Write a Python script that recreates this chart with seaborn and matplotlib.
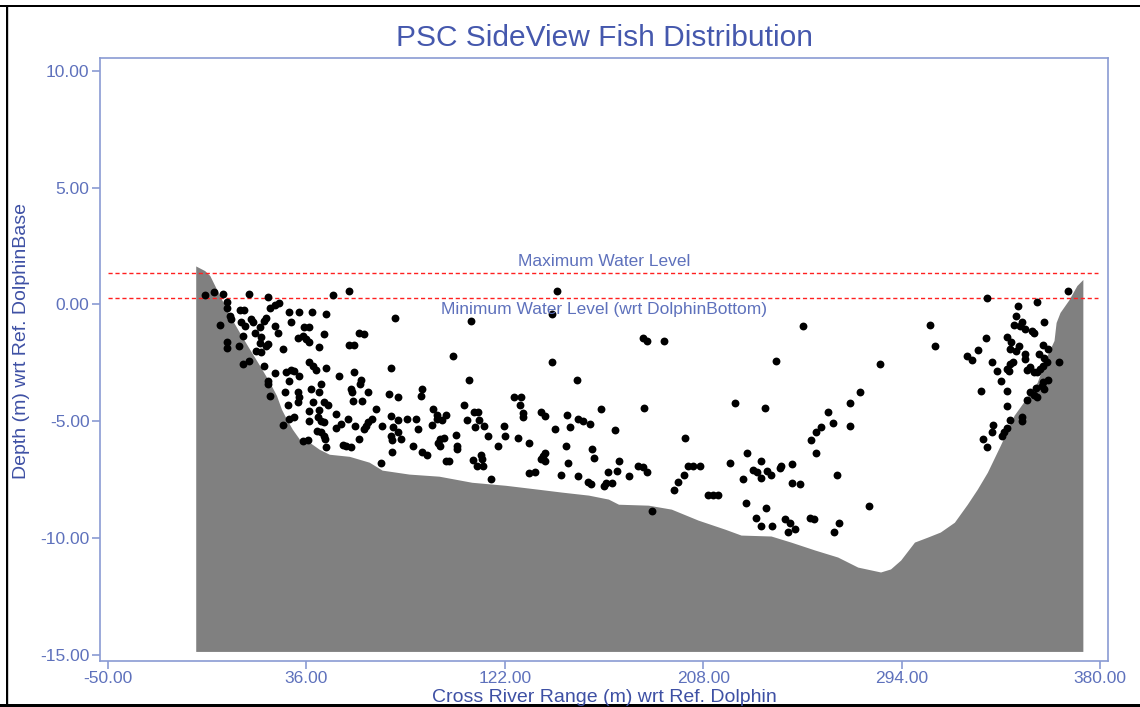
import matplotlib
matplotlib.use("Agg")
import matplotlib.pyplot as plt
import matplotlib.transforms as mtransforms
from matplotlib.patches import Rectangle
from matplotlib.ticker import FormatStrFormatter
import seaborn as sns
import pandas as pd

# river bed profile (cross river range m, depth m)
bed_x = [-12.0, -8.1, -5.9, -1.6, 2.7, 7.0, 11.4, 15.7, 20.0, 23.0, 25.2, 27.4, 29.9, 33.0,
         37.3, 41.6, 45.9, 54.6, 63.2, 68.8, 80.5, 93.5, 107.7, 122.4, 136.7, 146.6, 158.3,
         166.9, 171.3, 184.2, 194.2, 205.8, 217.5, 224.4, 237.4, 246.0, 256.4, 266.3, 275.0,
         284.9, 289.2, 293.6, 299.6, 305.2, 310.8, 316.9, 322.5, 326.8, 331.2, 336.8, 342.8,
         348.4, 352.8, 357.1, 360.1, 361.0, 362.7, 366.6, 370.0, 372.6]
bed_y = [1.65, 1.45, 1.24, 0.38, -0.47, -1.20, -1.92, -2.61, -3.33, -3.89, -4.49, -4.91, -5.34,
         -5.77, -5.90, -6.20, -6.41, -6.50, -6.75, -7.09, -7.26, -7.35, -7.61, -7.74, -7.91,
         -8.03, -8.16, -8.33, -8.55, -8.59, -8.76, -9.23, -9.62, -9.87, -9.91, -10.17, -10.51,
         -10.81, -11.24, -11.45, -11.32, -10.94, -10.17, -9.96, -9.74, -9.32, -8.55, -7.91,
         -7.18, -6.03, -4.74, -3.97, -3.33, -2.18, -1.54, -0.77, -0.34, 0.21, 0.81, 1.07]
bed_floor = -14.85

max_level = 1.34
min_level = 0.26

# fish targets (x, depth)
fish_west = [
    (-8.1, 0.40), (-4.2, 0.54), (-0.2, 0.44), (11.1, 0.44), (19.3, 0.34), (54.3, 0.58), (47.4, 0.40),
    (1.6, 0.09), (1.6, -0.13), (2.7, -0.49), (3.4, -0.63), (7.0, -0.23), (8.8, -0.23), (20.0, -0.13),
    (22.2, -0.03), (24.3, 0.06), (18.6, -0.56), (17.8, -0.70), (-1.6, -0.88), (7.8, -0.74), (9.2, -0.91),
    (12.1, -0.63), (12.8, -0.77), (16.0, -0.96), (28.3, -0.34), (32.7, -0.34), (38.4, -0.34), (44.5, -0.41),
    (29.4, -0.74), (22.2, -0.91), (35.1, -0.98), (37.0, -0.98), (43.8, -1.27), (23.6, -1.20), (13.5, -1.20),
    (8.5, -1.34), (16.4, -1.41), (15.7, -1.63), (18.6, -1.77), (19.3, -1.70), (32.2, -1.45), (34.4, -1.34),
    (35.8, -1.48), (37.0, -1.60), (41.6, -1.80), (26.0, -1.91), (1.6, -1.60), (1.6, -1.88), (6.7, -1.77),
    (54.3, -1.74), (56.7, -1.74), (58.9, -1.20), (61.0, -1.27), (14.2, -1.98), (16.4, -2.05), (8.5, -2.55),
    (11.1, -2.41), (17.4, -2.62), (37.0, -2.45), (38.7, -2.62), (40.2, -2.79), (44.5, -2.74), (22.2, -2.94),
    (27.2, -2.91), (29.4, -2.79), (30.8, -2.84), (28.3, -3.26), (32.7, -3.05), (50.2, -3.08), (56.7, -2.91),
    (19.3, -3.26), (19.3, -3.41), (59.6, -3.22), (59.2, -3.41), (42.3, -3.41), (41.3, -3.73), (38.0, -3.62),
    (55.3, -3.62), (55.7, -3.76), (62.5, -3.76), (26.9, -3.76), (32.2, -3.76), (32.7, -3.98), (32.2, -4.19),
    (20.3, -3.91), (27.9, -4.30), (39.0, -4.19), (43.8, -4.16), (45.2, -4.30), (56.0, -4.12), (60.3, -4.12),
    (66.1, -4.48), (37.3, -4.55), (41.3, -4.50), (48.8, -4.69), (53.8, -4.90), (64.4, -4.90), (62.9, -5.02),
    (61.8, -5.19), (61.0, -5.33), (28.6, -4.90), (30.4, -4.83), (37.0, -4.97), (40.9, -4.83), (42.3, -4.97),
    (43.8, -5.05), (26.0, -5.16), (48.8, -5.30), (51.0, -5.12), (57.2, -5.22), (40.5, -5.40), (42.3, -5.47),
    (43.8, -5.62), (44.2, -5.76), (44.5, -6.11), (34.4, -5.83), (36.6, -5.79), (51.7, -6.01), (53.1, -6.07),
    (55.3, -6.11), (58.9, -5.76),
]
fish_midwest = [
    (144.6, 0.58), (142.4, -0.41), (74.5, -0.60), (107.2, -0.70), (99.5, -2.20), (72.6, -2.74),
    (142.4, -2.45), (106.4, -3.24), (71.9, -3.83), (75.9, -3.98), (86.3, -3.62), (85.6, -3.93),
    (125.9, -3.98), (129.2, -3.98), (128.8, -4.30), (90.9, -4.48), (92.8, -4.73), (96.4, -4.73),
    (94.6, -4.93), (92.8, -4.90), (104.3, -4.30), (108.6, -4.59), (110.5, -4.59), (111.0, -4.93),
    (105.7, -4.93), (109.0, -5.26), (112.9, -5.22), (129.8, -4.65), (129.8, -4.83), (137.8, -4.59),
    (139.6, -4.79), (148.9, -4.73), (72.6, -4.76), (75.5, -4.93), (79.8, -4.90), (83.7, -4.90),
    (68.7, -5.22), (73.6, -5.26), (75.9, -5.47), (84.5, -5.33), (90.3, -5.16), (72.6, -5.64),
    (73.0, -5.79), (76.9, -5.76), (82.2, -6.07), (93.8, -5.76), (95.6, -5.73), (93.2, -5.93),
    (93.8, -6.04), (101.0, -5.59), (101.4, -6.04), (101.4, -6.19), (114.8, -5.62), (121.6, -5.22),
    (122.0, -5.62), (127.7, -5.73), (132.6, -5.93), (143.6, -5.33), (119.1, -6.07), (148.5, -6.07),
    (73.0, -6.30), (86.0, -6.30), (88.4, -6.44), (96.4, -6.68), (97.8, -6.68), (108.2, -6.64),
    (111.5, -6.44), (111.9, -6.61), (110.0, -6.93), (112.5, -6.93), (138.4, -6.47), (139.6, -6.36),
    (137.8, -6.61), (139.6, -6.68), (149.3, -6.78), (68.3, -6.78), (132.6, -7.21), (135.2, -7.15),
    (146.5, -7.30), (115.8, -7.47),
]
fish_centre = [
    (182.1, -1.45), (183.5, -1.55), (191.1, -1.55), (153.3, -3.22), (221.7, -4.22), (163.8, -4.47),
    (182.5, -4.45), (153.7, -4.90), (155.7, -4.97), (159.0, -5.12), (150.4, -5.26), (169.8, -5.36),
    (200.1, -5.73), (159.7, -6.18), (160.5, -6.58), (227.1, -6.35), (171.3, -6.68), (219.5, -6.78),
    (179.9, -6.93), (182.1, -6.97), (183.5, -7.15), (166.9, -7.15), (170.5, -7.11), (175.9, -7.35),
    (153.7, -7.35), (158.0, -7.58), (159.4, -7.68), (164.8, -7.78), (165.8, -7.64), (168.4, -7.64),
    (201.5, -6.93), (203.7, -6.93), (206.5, -6.93), (199.8, -7.30), (196.9, -7.58), (195.4, -7.96),
    (210.1, -8.15), (212.3, -8.15), (214.5, -8.15), (225.3, -7.47), (229.6, -7.07), (231.4, -7.15),
    (226.7, -8.49), (231.0, -9.15), (185.9, -8.82),
]
fish_east = [
    (251.2, -0.91), (306.2, -0.87), (308.5, -1.77), (239.7, -2.41), (284.6, -2.55), (276.0, -3.73),
    (271.8, -4.22), (234.6, -4.45), (262.0, -4.62), (264.2, -5.07), (271.8, -5.22), (259.1, -5.23),
    (257.0, -5.44), (254.8, -5.80), (256.7, -6.35), (232.9, -6.68), (241.8, -6.93), (241.5, -7.01),
    (246.6, -6.83), (235.8, -7.11), (237.5, -7.30), (233.2, -7.44), (265.9, -7.30), (246.6, -7.64),
    (249.8, -7.68), (235.4, -8.71), (280.0, -8.64), (243.3, -9.20), (245.7, -9.35), (254.1, -9.15),
    (256.0, -9.20), (266.8, -9.35), (233.2, -9.49), (238.0, -9.49), (244.7, -9.72), (248.0, -9.60),
    (264.9, -9.72),
]
fish_bank = [
    (366.2, 0.58), (330.9, 0.26), (352.8, 0.11), (344.5, -0.06), (343.7, -0.51), (346.3, -0.74),
    (342.7, -0.88), (345.3, -0.91), (347.7, -1.06), (350.6, -1.13), (351.3, -1.23), (355.9, -0.74),
    (330.7, -1.45), (339.8, -1.41), (341.5, -1.62), (345.1, -1.77), (343.7, -1.98), (340.9, -1.91),
    (355.3, -1.74), (357.4, -1.91), (353.5, -2.10), (347.7, -2.10), (347.7, -2.34), (355.9, -2.27),
    (357.1, -2.48), (327.1, -1.95), (322.2, -2.20), (324.7, -2.37), (333.0, -2.45), (342.4, -2.45),
    (341.2, -2.55), (339.8, -2.77), (340.5, -2.84), (335.5, -2.84), (348.4, -2.79), (349.9, -2.69),
    (351.6, -2.88), (352.8, -2.91), (354.2, -2.77), (355.3, -2.62), (362.1, -2.45), (337.3, -3.26),
    (355.3, -3.31), (357.4, -3.22), (354.9, -3.48), (352.5, -3.59), (355.9, -3.62), (328.3, -3.72),
    (339.8, -3.72), (349.6, -3.76), (351.3, -3.88), (352.8, -3.98), (348.4, -4.08), (339.8, -4.33),
    (340.9, -4.95), (346.3, -4.83), (346.3, -4.97), (333.7, -5.14), (333.0, -5.44), (339.8, -5.29),
    (338.4, -5.47), (337.6, -5.64), (329.4, -5.76), (331.2, -6.11),
]

x_ticks = [-50, 36, 122, 208, 294, 380]
y_ticks = [-15, -10, -5, 0, 5, 10]

frame_blue = "#8A9BD3"
tick_blue = "#5E71BC"
label_blue = "#3E50A4"

fish = pd.DataFrame(fish_west + fish_midwest + fish_centre + fish_east + fish_bank,
                    columns=["range", "depth"])

sns.set_style("white")
plt.rcParams["font.family"] = ["Liberation Sans", "DejaVu Sans"]

fig = plt.figure(figsize=(11.4, 7.07), dpi=100)
ax = fig.add_axes([100 / 1140, 1 - 661 / 707, 1008 / 1140, 603 / 707])

ax.fill_between(bed_x, bed_floor, bed_y, color="#808080", linewidth=0, zorder=1)
sns.scatterplot(data=fish, x="range", y="depth", color="black", marker="o", s=32,
                linewidth=0, ax=ax, zorder=3)

ax.hlines([max_level, min_level], -50, 379, colors="#FF2020", linestyles=(0, (3, 2)),
          linewidth=1, zorder=2)
trans = mtransforms.blended_transform_factory(ax.transAxes, ax.transData)
ax.text(0.5, max_level + 0.5, "Maximum Water Level", transform=trans, ha="center",
        va="center", fontsize=12.5, color=tick_blue)
ax.text(0.5, min_level - 0.47, "Minimum Water Level (wrt DolphinBottom)", transform=trans,
        ha="center", va="center", fontsize=12.5, color=tick_blue)

ax.set_xlim(-53.5, 383.5)
ax.set_ylim(-15.26, 10.55)
ax.set_xticks(x_ticks)
ax.set_yticks(y_ticks)
ax.xaxis.set_major_formatter(FormatStrFormatter("%.2f"))
ax.yaxis.set_major_formatter(FormatStrFormatter("%.2f"))
ax.tick_params(axis="both", direction="out", length=6, width=1.2, color=frame_blue,
               labelcolor=tick_blue, labelsize=12.5, pad=1.5)
ax.tick_params(axis="x", bottom=True)
ax.tick_params(axis="y", left=True)
for sp in ax.spines.values():
    sp.set_color(frame_blue)
    sp.set_linewidth(1.2)
ax.set_xlabel("")
ax.set_ylabel("")

fig.text(604 / 1140, 1 - 38 / 707, "PSC SideView Fish Distribution", ha="center",
         va="center", fontsize=21.5, color="#4558AD")
fig.text(604 / 1140, 1 - 698 / 707, "Cross River Range (m) wrt Ref. Dolphin", ha="center",
         va="center", fontsize=14, color=label_blue)
fig.text(22 / 1140, 1 - 341 / 707, "Depth (m) wrt Ref. DolphinBase", ha="center",
         va="center", fontsize=14, color=label_blue, rotation=90)

# window border
fig.add_artist(Rectangle((0, 1 - 7 / 707), 1, 2 / 707, transform=fig.transFigure,
                         color="black", linewidth=0))
fig.add_artist(Rectangle((6 / 1140, 0), 2 / 1140, 1 - 5 / 707, transform=fig.transFigure,
                         color="black", linewidth=0))
fig.add_artist(Rectangle((8 / 1140, 0), 1 / 1140, 1 - 7 / 707, transform=fig.transFigure,
                         color="#D0D0D0", linewidth=0))
fig.add_artist(Rectangle((0, 0), 1, 3 / 707, transform=fig.transFigure,
                         color="black", linewidth=0))

fig.savefig("out.png", dpi=100)
